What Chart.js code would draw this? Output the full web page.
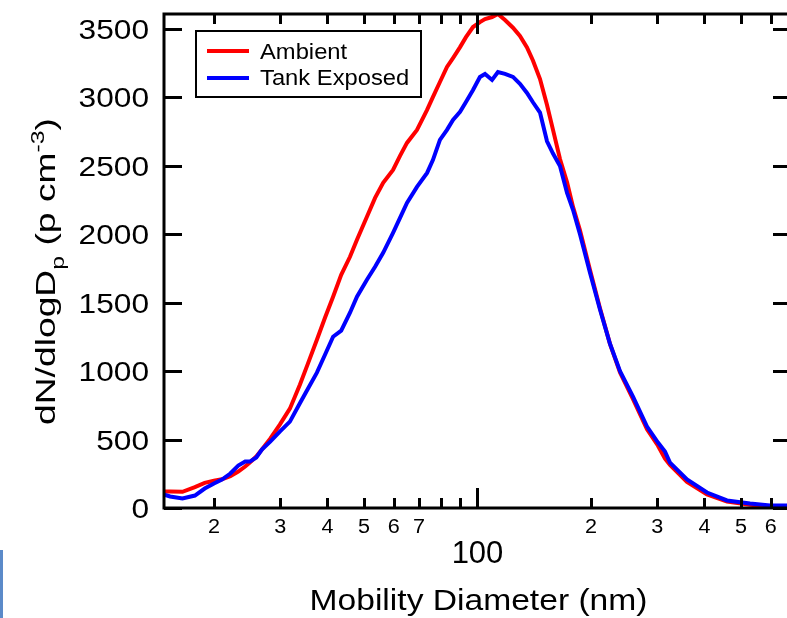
<!DOCTYPE html>
<html>
<head>
<meta charset="utf-8">
<script src="https://cdn.jsdelivr.net/npm/chart.js@4"></script>
<style>
  html, body { margin: 0; padding: 0; background: #fff; overflow: hidden; width: 787px; height: 618px; }
  #wrap { position: relative; width: 787px; height: 618px; overflow: hidden; }
  #sizeChart { position: absolute; left: 0; top: 0; }
  #edge { position: absolute; left: 0; top: 550px; width: 3px; height: 68px; background: #5b8ac9; }
</style>
</head>
<body>
<div id="wrap">
  <canvas id="sizeChart" width="800" height="618"></canvas>
  <div id="edge"></div>
</div>
<script>
// Mobility diameter bins (nm)
const diameters = [14.7, 15.3, 16.5, 17.8, 18.9, 20.0, 21.0, 22.1, 23.2, 24.2,
  24.9, 25.9, 26.8, 28.2, 29.9, 31.8, 33.8, 35.5, 37.5, 39.4,
  41.4, 43.5, 45.9, 47.9, 50.9, 53.5, 56.2, 59.7, 62.3, 65.0,
  69.1, 73.5, 76.2, 79.5, 83.0, 86.1, 89.9, 93.2, 97.3, 101.5,
  104.7, 109.3, 113.3, 118.3, 124.2, 129.6, 135.3, 140.3, 146.5, 152.9,
  158.6, 165.5, 172.8, 179.2, 187.0, 198.8, 211.3, 224.6, 238.8, 258.5,
  281.6, 301.1, 314.3, 324.0, 359.5, 406.2, 459.0, 528.3, 597.0, 662.3, 680.0];

// dN/dlogDp (p cm-3)
const ambient = [120, 120, 118, 152, 184, 199, 210, 232, 266, 303,
  332, 376, 427, 507, 609, 726, 901, 1055, 1230, 1390,
  1544, 1704, 1836, 1960, 2128, 2266, 2376, 2471, 2573, 2668,
  2763, 2909, 3004, 3113, 3223, 3288, 3368, 3441, 3515, 3551,
  3573, 3588, 3610, 3566, 3510, 3450, 3365, 3270, 3135, 2945,
  2763, 2550, 2380, 2200, 2030, 1740, 1460, 1200, 990, 795,
  575, 455, 360, 315, 190, 100, 48, 24, 10, 5, 4];

const tankExposed = [99, 84, 69, 91, 142, 179, 208, 252, 310, 339,
  339, 369, 427, 485, 558, 631, 765, 872, 989, 1120,
  1252, 1296, 1427, 1544, 1668, 1763, 1865, 2011, 2120, 2230,
  2347, 2449, 2544, 2690, 2763, 2836, 2895, 2967, 3055, 3150,
  3172, 3128, 3186, 3172, 3150, 3100, 3033, 2965, 2890, 2680,
  2590, 2500, 2303, 2179, 2000, 1720, 1450, 1200, 1000, 814,
  595, 478, 412, 332, 208, 113, 55, 33, 18, 18, 16];

const seriesNames = ['Ambient', 'Tank Exposed'];
const seriesColors = ['#ff0000', '#0000ff'];

// axis ranges and ticks
const xMin = 14.74;
const xMax = 678.5;
const yMax = 3610;
const yTicks = [0, 500, 1000, 1500, 2000, 2500, 3000, 3500];
const xMinorTicks = [20, 30, 40, 50, 60, 70, 80, 90, 200, 300, 400, 500, 600];
const xMajorTicks = [100];
const xLabelValues = [20, 30, 40, 50, 60, 70, 200, 300, 400, 500, 600];
const xLabelTexts = ['2', '3', '4', '5', '6', '7', '2', '3', '4', '5', '6'];
const xMajorLabel = '100';
const xTitle = 'Mobility Diameter (nm)';

const FONT = '"Liberation Sans", Arial, sans-serif';

function drawText(ctx, txt, x, y, size, sx, align) {
  ctx.save();
  ctx.font = size + 'px ' + FONT;
  ctx.translate(x, y);
  ctx.scale(sx, 1);
  ctx.textAlign = align;
  ctx.textBaseline = 'alphabetic';
  ctx.fillStyle = '#000';
  ctx.fillText(txt, 0, 0);
  ctx.restore();
}

function drawYTitle(ctx) {
  // dN/dlogD_p (p cm^-3), rotated, with sub/superscripts
  const parts = [
    { t: 'dN/dlogD', s: 27, dy: 0 },
    { t: 'p', s: 18, dy: 9 },
    { t: ' (p cm', s: 27, dy: 0 },
    { t: '-3', s: 18, dy: -11 },
    { t: ')', s: 27, dy: 0 }
  ];
  ctx.save();
  let total = 0;
  parts.forEach(p => { ctx.font = p.s + 'px ' + FONT; p.w = ctx.measureText(p.t).width; total += p.w; });
  const stretch = 307 / total;
  ctx.translate(55, 271.5);
  ctx.rotate(-Math.PI / 2);
  ctx.scale(stretch, 1);
  ctx.fillStyle = '#000';
  ctx.textBaseline = 'alphabetic';
  ctx.textAlign = 'left';
  let u = -total / 2;
  parts.forEach(p => {
    ctx.font = p.s + 'px ' + FONT;
    ctx.fillText(p.t, u, p.dy);
    u += p.w;
  });
  ctx.restore();
}

const framePlugin = {
  id: 'frame',
  afterDraw(chart) {
    const ctx = chart.ctx;
    const a = chart.chartArea;
    const xs = chart.scales.x;
    const ys = chart.scales.y;
    ctx.save();
    ctx.strokeStyle = '#000';
    ctx.lineWidth = 3;
    ctx.lineCap = 'butt';
    ctx.strokeRect(a.left, a.top, a.right - a.left, a.bottom - a.top);

    ctx.beginPath();
    yTicks.forEach(v => {
      const py = Math.round(ys.getPixelForValue(v)) + 0.5;
      ctx.moveTo(a.left, py); ctx.lineTo(a.left + 18, py);
      ctx.moveTo(a.right, py); ctx.lineTo(a.right - 18, py);
    });
    xMinorTicks.forEach(v => {
      const px = Math.round(xs.getPixelForValue(v)) + 0.5;
      ctx.moveTo(px, a.bottom); ctx.lineTo(px, a.bottom - 10);
      ctx.moveTo(px, a.top); ctx.lineTo(px, a.top + 10);
    });
    xMajorTicks.forEach(v => {
      const px = Math.round(xs.getPixelForValue(v)) + 0.5;
      ctx.moveTo(px, a.bottom); ctx.lineTo(px, a.bottom - 20);
      ctx.moveTo(px, a.top); ctx.lineTo(px, a.top + 20);
    });
    ctx.stroke();

    // tick labels
    yTicks.forEach(v => {
      const py = ys.getPixelForValue(v);
      drawText(ctx, String(v), 149, py + 10, 28, 1.13, 'right');
    });
    xLabelValues.forEach((v, i) => {
      drawText(ctx, xLabelTexts[i], xs.getPixelForValue(v), 533, 20, 1.08, 'center');
    });
    drawText(ctx, xMajorLabel, xs.getPixelForValue(xMajorTicks[0]), 563, 31, 1.0, 'center');

    // axis titles
    drawText(ctx, xTitle, (a.left + a.right) / 2 + 1, 610, 30, 1.12, 'center');
    drawYTitle(ctx);

    // legend
    ctx.lineWidth = 2;
    ctx.strokeRect(196, 31, 225, 66);
    ctx.lineWidth = 4;
    [51, 78].forEach((ly, i) => {
      ctx.strokeStyle = seriesColors[i];
      ctx.beginPath(); ctx.moveTo(207, ly); ctx.lineTo(249, ly); ctx.stroke();
    });
    drawText(ctx, seriesNames[0], 260, 59, 22, 1.08, 'left');
    drawText(ctx, seriesNames[1], 260, 85, 22, 1.08, 'left');
    ctx.restore();
  }
};

function toPoints(values) {
  return diameters.map((d, i) => ({ x: d, y: values[i] }));
}

new Chart(document.getElementById('sizeChart'), {
  type: 'line',
  data: {
    datasets: [{
      label: seriesNames[0],
      data: toPoints(ambient),
      borderColor: seriesColors[0],
      borderWidth: 4,
      pointRadius: 0,
      tension: 0,
      order: 2
    }, {
      label: seriesNames[1],
      data: toPoints(tankExposed),
      borderColor: seriesColors[1],
      borderWidth: 4,
      pointRadius: 0,
      tension: 0,
      order: 1
    }]
  },
  options: {
    responsive: false,
    animation: false,
    layout: { padding: { left: 164, right: 9, top: 14, bottom: 110 } },
    plugins: {
      legend: { display: false },
      tooltip: { enabled: false }
    },
    scales: {
      x: { type: 'logarithmic', min: xMin, max: xMax, display: false },
      y: { type: 'linear', min: 0, max: yMax, display: false }
    }
  },
  plugins: [framePlugin]
});
</script>
</body>
</html>
